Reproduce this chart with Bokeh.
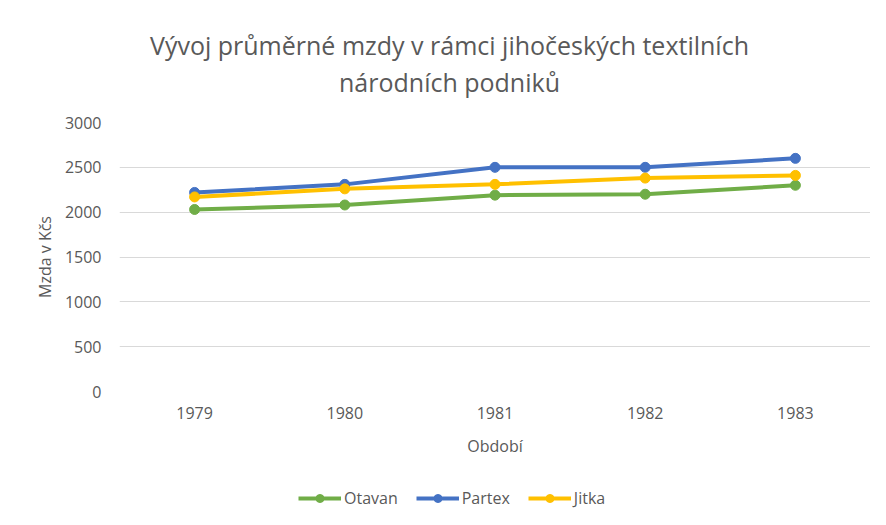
from bokeh.plotting import figure
from bokeh.layouts import column
from bokeh.models import (FactorRange, Range1d, SingleIntervalTicker, Label,
                          Legend, LegendItem)
from bokeh.embed import file_html
from bokeh.resources import INLINE

years = ["1979", "1980", "1981", "1982", "1983"]
otavan = [2030, 2080, 2190, 2200, 2300]
partex = [2220, 2310, 2500, 2500, 2600]
jitka = [2170, 2260, 2310, 2380, 2410]

series_names = ["Otavan", "Partex", "Jitka"]
series_values = [otavan, partex, jitka]
series_colors = ["#70AD47", "#4472C4", "#FFC000"]

title_lines = ["Vývoj průměrné mzdy v rámci jihočeských textilních", "národních podniků"]
x_title = "Období"
y_title = "Mzda v Kčs"

FONT = "Open Sans"
TXT = "#595959"
W = 870


def blank(height):
    f = figure(width=W, height=height, output_backend="svg", toolbar_location=None,
               x_axis_location=None, y_axis_location=None,
               x_range=FactorRange(factors=years), y_range=Range1d(0, 1),
               min_border=0, min_border_left=0, min_border_right=0,
               min_border_top=0, min_border_bottom=0)
    f.outline_line_color = None
    f.xgrid.grid_line_color = None
    f.ygrid.grid_line_color = None
    return f


# --- title strip ---
t = blank(100)
for txt, yy in zip(title_lines, [56, 19]):
    t.add_layout(Label(x=330, y=yy, x_units="screen", y_units="screen",
                       text=txt, text_align="center", text_baseline="alphabetic",
                       text_font="Open Sans", text_font_size="25px",
                       text_color=TXT))

# --- main chart ---
p = figure(width=W, height=372, output_backend="svg", toolbar_location=None,
           x_range=FactorRange(factors=years), y_range=Range1d(0, 3000),
           min_border_left=119, min_border_right=0, min_border_top=22,
           min_border_bottom=81)
p.outline_line_color = None

p.yaxis.ticker = SingleIntervalTicker(interval=500)
for ax in (p.xaxis[0], p.yaxis[0]):
    ax.axis_line_color = None
    ax.major_tick_line_color = None
    ax.minor_tick_line_color = None
    ax.major_label_text_font = FONT
    ax.major_label_text_font_size = "16px"
    ax.major_label_text_color = TXT
    ax.axis_label_text_font = FONT
    ax.axis_label_text_font_size = "16px"
    ax.axis_label_text_color = TXT
    ax.axis_label_text_font_style = "normal"
p.xaxis.axis_label = x_title
p.yaxis.axis_label = y_title
p.xaxis.major_label_standoff = 9
p.yaxis.major_label_standoff = 12
p.xaxis.axis_label_standoff = 13
p.yaxis.axis_label_standoff = 6

p.xgrid.grid_line_color = None
p.ygrid.grid_line_color = "#D9D9D9"
p.ygrid.grid_line_width = 1

for vals, col in zip(series_values, series_colors):
    p.line(years, vals, line_color=col, line_width=4)
    p.scatter(years, vals, size=10, fill_color=col, line_color=col)

# --- legend strip ---
lg = blank(37)
items = []
for name, vals, col in zip(series_names, series_values, series_colors):
    l = lg.line(years, vals, line_color=col, line_width=4)
    s = lg.scatter(years, vals, size=10, fill_color=col, line_color=col)
    items.append(LegendItem(label=name, renderers=[l, s]))

legend = Legend(items=items, orientation="horizontal", location=(179, 0),
                glyph_width=43, glyph_height=20, label_standoff=3, spacing=18,
                padding=0, margin=0, border_line_color=None,
                background_fill_alpha=0, label_text_font=FONT,
                label_text_font_size="16px", label_text_color=TXT,
                label_height=20)
lg.add_layout(legend, "center")

layout = column(t, p, lg, spacing=0)
open("out.html", "w").write(file_html(layout, INLINE))
